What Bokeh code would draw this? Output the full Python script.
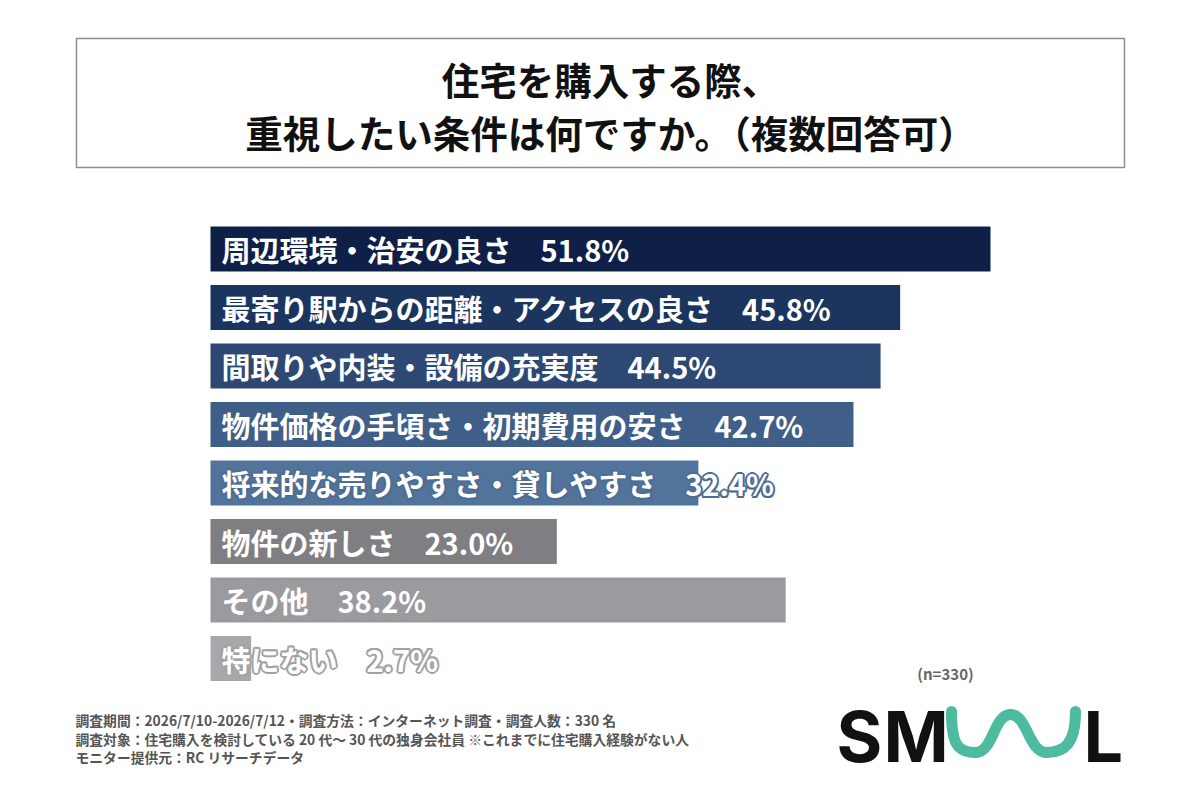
from bokeh.plotting import figure
from bokeh.models import Range1d, ColumnDataSource
from bokeh.core.properties import value
from bokeh.embed import file_html
from bokeh.resources import INLINE

# ---------------- data ----------------
title_lines = ["住宅を購入する際、", "重視したい条件は何ですか。（複数回答可）"]
categories = ["周辺環境・治安の良さ", "最寄り駅からの距離・アクセスの良さ",
              "間取りや内装・設備の充実度", "物件価格の手頃さ・初期費用の安さ",
              "将来的な売りやすさ・貸しやすさ", "物件の新しさ", "その他", "特にない"]
values = [51.8, 45.8, 44.5, 42.7, 32.4, 23.0, 38.2, 2.7]
bar_colors = ["#0e2048", "#1b355f", "#2d4873", "#3f5e88", "#52739a",
              "#7f7e82", "#9b9a9e", "#a8a8aa"]
notes = ["調査期間：2026/7/10-2026/7/12・調査方法：インターネット調査・調査人数：330 名",
         "調査対象：住宅購入を検討している 20 代～ 30 代の独身会社員 ※これまでに住宅購入経験がない人",
         "モニター提供元：RC リサーチデータ"]
sample_note = "(n=330)"

# ---------------- layout helpers ----------------
W, H = 1200, 800
BAR_LEFT_PX = 210
SCALE = 780 / 51.8  # px per percent


def X(px):
    return (px - BAR_LEFT_PX) / SCALE


JP = value("Noto Sans CJK JP")

p = figure(width=W, height=H, output_backend="svg", toolbar_location=None,
           x_range=Range1d(X(0), X(W)), y_range=Range1d(H, 0),
           min_border=0, min_border_left=0, min_border_right=0,
           min_border_top=0, min_border_bottom=0)
p.axis.visible = False
p.grid.visible = False
p.outline_line_color = None
p.background_fill_color = "white"
p.border_fill_color = "white"

# title box
p.quad(left=[X(76)], right=[X(1124)], top=[38], bottom=[167],
       fill_color=None, line_color="#8c8c8c", line_width=1.5)
p.text(x=[X(610)] * 2, y=[78, 131], text=title_lines, text_font=JP,
       text_font_style="bold", text_font_size="37.5px", text_color="#111111",
       text_align="center", text_baseline="middle")

# bars
centers = [248.5 + i * 58.5 for i in range(len(values))]
labels = [f"{c}\u3000{v:.1f}%" for c, v in zip(categories, values)]
src = ColumnDataSource(dict(y=centers, v=values, color=bar_colors,
                            label=labels, lx=[X(221)] * len(values)))
p.hbar(y="y", left=0, right="v", height=45, fill_color="color",
       line_color=None, source=src)

# halo behind labels that run past their bars
halo_idx = [4, 7]
halo_col = {4: "#4d6d93", 7: "#a2a2a4"}
offsets = [(-2, 0), (2, 0), (0, -2), (0, 2), (-1.5, -1.5), (1.5, -1.5),
           (-1.5, 1.5), (1.5, 1.5)]
hx, hy, ht, hc = [], [], [], []
for i in halo_idx:
    for dx, dy in offsets:
        hx.append(X(221 + dx))
        hy.append(centers[i] + dy)
        ht.append(labels[i])
        hc.append(halo_col[i])
p.text(x=hx, y=hy, text=ht, text_color=hc, text_font=JP,
       text_font_style="bold", text_font_size="29px", text_align="left",
       text_baseline="middle")

p.text(x="lx", y="y", text="label", source=src, text_font=JP,
       text_font_style="bold", text_font_size="29px", text_color="white",
       text_align="left", text_baseline="middle")

# sample size
p.text(x=[X(945)], y=[673], text=[sample_note], text_font=JP,
       text_font_style="bold", text_font_size="15px", text_color="#666666",
       text_align="center", text_baseline="middle")

# notes
p.text(x=[X(75)] * 3, y=[719, 738, 756], text=notes, text_font=JP,
       text_font_style="bold", text_font_size="13.8px", text_color="#555555",
       text_align="left", text_baseline="middle")

# logo "SMUUL"
p.text(x=[X(836), X(883)], y=[736, 736], text=["S", "M"], text_font=value("Inter"),
       text_font_style="bold", text_font_size="70px", text_color="#111111",
       text_align="left", text_baseline="middle")
p.text(x=[X(1083)], y=[736], text=["L"], text_font=value("Inter"),
       text_font_style="bold", text_font_size="70px", text_color="#111111",
       text_align="left", text_baseline="middle")
wave_x0 = [X(951), X(975), X(1010), X(1046)]
wave_y0 = [711, 752, 714, 752]
wave_x1 = [X(975), X(1010), X(1046), X(1075)]
wave_y1 = [752, 714, 752, 711]
wave_cx0 = [X(951), X(993), X(1027), X(1065)]
wave_cy0 = [742, 752, 714, 752]
wave_cx1 = [X(956), X(993), X(1028), X(1075)]
wave_cy1 = [752, 714, 752, 742]
p.bezier(x0=wave_x0, y0=wave_y0, x1=wave_x1, y1=wave_y1,
         cx0=wave_cx0, cy0=wave_cy0, cx1=wave_cx1, cy1=wave_cy1,
         line_color="#4dbb9f", line_width=11, line_cap="round")

open("out.html", "w").write(file_html(p, INLINE))
